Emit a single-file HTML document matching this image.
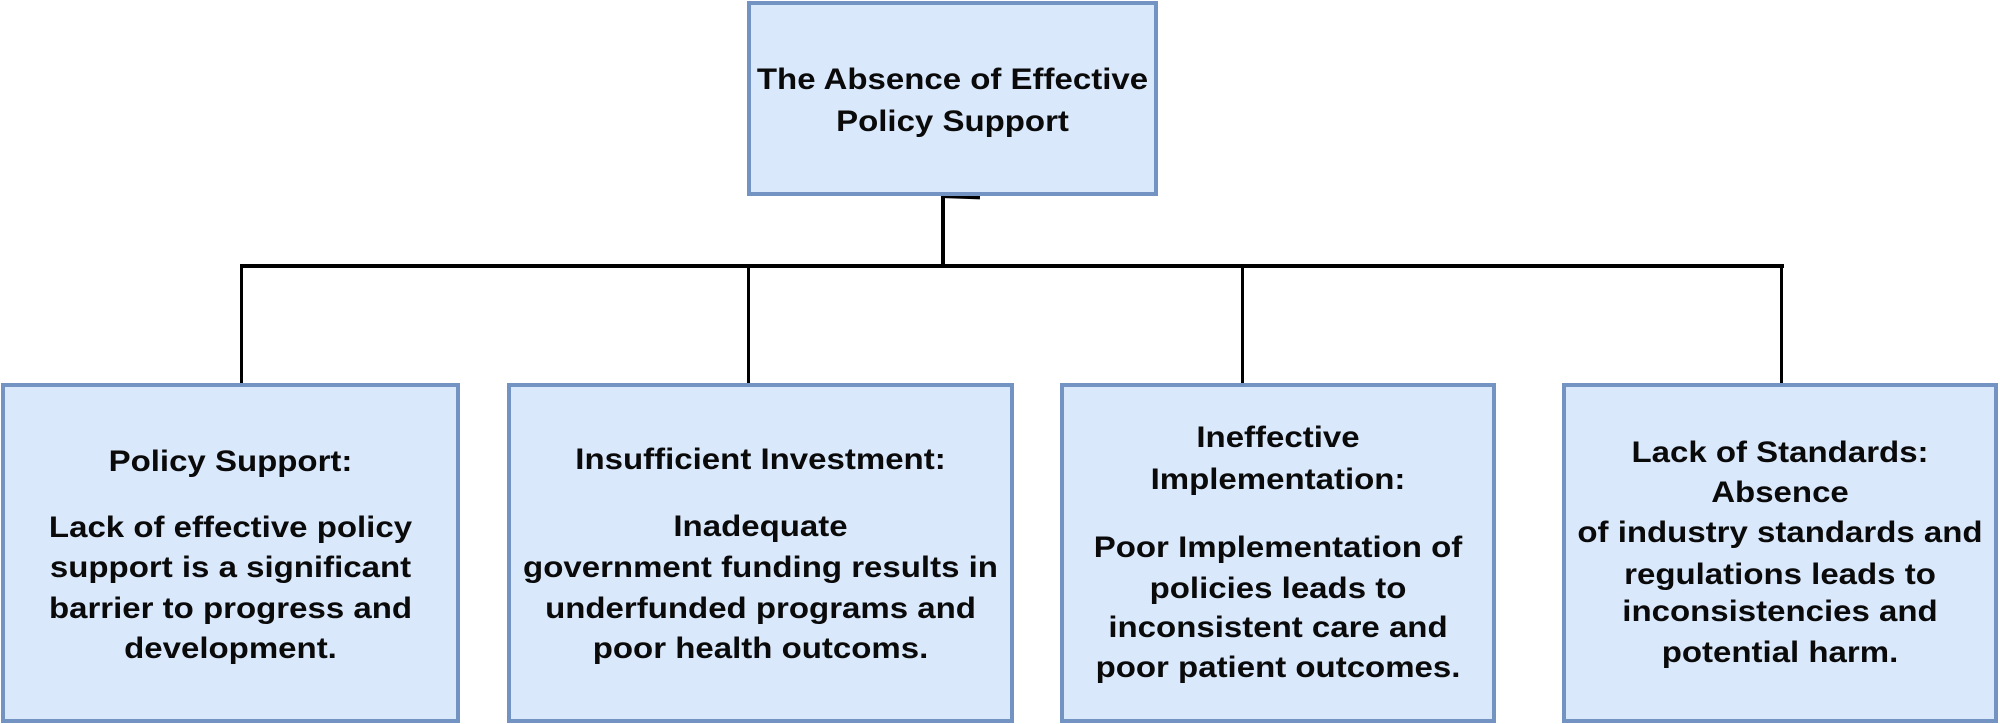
<!DOCTYPE html>
<html><head><meta charset="utf-8"><style>
html,body{margin:0;padding:0;background:#fff;}
body{width:2000px;height:724px;position:relative;overflow:hidden;font-family:"Liberation Sans",Arial,sans-serif;}
.box{position:absolute;background:#dae8fc;border:4px solid #7393c2;box-sizing:border-box;}
.l{position:absolute;left:0;right:0;height:40px;line-height:40px;text-align:center;font-weight:bold;font-size:30px;color:#0a0a0a;white-space:nowrap;transform:scaleX(1.1);transform-origin:center;}
.ln{position:absolute;background:#000;}
</style></head><body>
<!-- connectors -->
<div class="ln" style="left:941px;top:194px;width:4px;height:74px"></div>
<div class="ln" style="left:941px;top:194px;width:39px;height:4px;transform:rotate(2deg);transform-origin:left"></div>
<div class="ln" style="left:240px;top:264px;width:1544px;height:4px"></div>
<div class="ln" style="left:240px;top:264px;width:3px;height:122px"></div>
<div class="ln" style="left:747px;top:264px;width:3px;height:122px"></div>
<div class="ln" style="left:1241px;top:264px;width:3px;height:122px"></div>
<div class="ln" style="left:1780px;top:264px;width:3px;height:122px"></div>

<div class="box" style="left:747px;top:1px;width:411px;height:195px">
<div class="l" style="top:55px">The Absence of Effective</div>
<div class="l" style="top:97px">Policy Support</div>
</div>

<div class="box" style="left:1px;top:383px;width:459px;height:340px">
<div class="l" style="top:55px">Policy Support:</div>
<div class="l" style="top:121px">Lack of effective policy</div>
<div class="l" style="top:161px">support is a significant</div>
<div class="l" style="top:202px">barrier to progress and</div>
<div class="l" style="top:242px">development.</div>
</div>

<div class="box" style="left:507px;top:383px;width:507px;height:340px">
<div class="l" style="top:53px">Insufficient Investment:</div>
<div class="l" style="top:120px">Inadequate</div>
<div class="l" style="top:161px">government funding results in</div>
<div class="l" style="top:202px">underfunded programs and</div>
<div class="l" style="top:242px">poor health outcoms.</div>
</div>

<div class="box" style="left:1060px;top:383px;width:436px;height:340px">
<div class="l" style="top:31px">Ineffective</div>
<div class="l" style="top:73px">Implementation:</div>
<div class="l" style="top:141px">Poor Implementation of</div>
<div class="l" style="top:182px">policies leads to</div>
<div class="l" style="top:221px">inconsistent care and</div>
<div class="l" style="top:261px">poor patient outcomes.</div>
</div>

<div class="box" style="left:1562px;top:383px;width:436px;height:340px">
<div class="l" style="top:46px">Lack of Standards:</div>
<div class="l" style="top:86px">Absence</div>
<div class="l" style="top:126px">of industry standards and</div>
<div class="l" style="top:168px">regulations leads to</div>
<div class="l" style="top:205px">inconsistencies and</div>
<div class="l" style="top:246px">potential harm.</div>
</div>
</body></html>
